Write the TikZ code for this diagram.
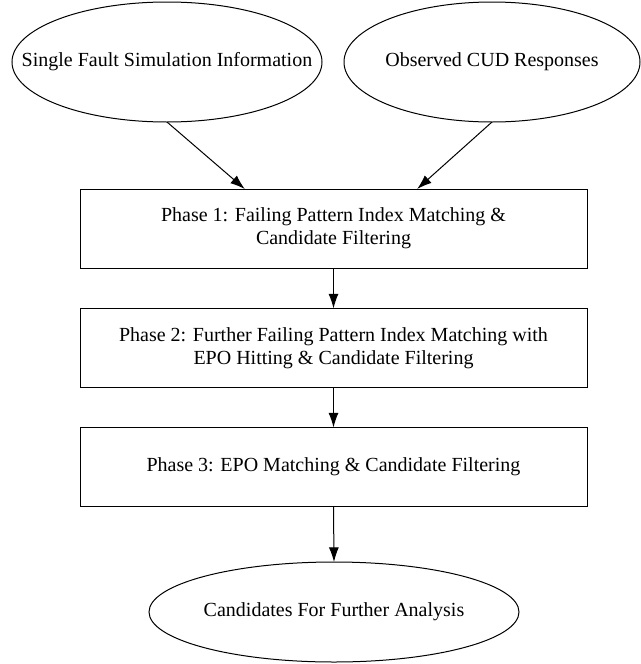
\documentclass[tikz,border=0pt]{standalone}
\usepackage{fontspec}
\setmainfont{Liberation Serif}
\usetikzlibrary{shapes.geometric,arrows.meta,calc}

\newcommand{\ovaltext}[1]{\makebox[0pt]{#1}}

\begin{document}
\begin{tikzpicture}[x=0.75pt, y=-0.75pt,
            every node/.style={font=\fontsize{15}{17.25}\selectfont, align=center, inner sep=0pt, outer sep=0pt},
            src/.style={ellipse, draw, line width=0.75pt, minimum height=90pt},
            phase/.style={rectangle, draw, line width=0.75pt, minimum width=380.25pt, minimum height=59.25pt},
            flow/.style={-{Latex[length=11pt, width=7.5pt]}, line width=0.75pt},
        ]
            \useasboundingbox (0,0) rectangle (641,664);
            \node[src, minimum width=232.5pt](simnode) at (167,62) {\ovaltext{Single Fault Simulation Information}};
            \node[src, minimum width=222pt](obsnode) at (492,62) {\ovaltext{Observed CUD Responses}};
            \node[phase](p1node) at (333.5,228.5) {Phase 1: Failing Pattern Index Matching \&\\ Candidate Filtering};
            \node[phase](p2node) at (333.5,348) {Phase 2: Further Failing Pattern Index Matching with\\ EPO Hitting \& Candidate Filtering};
            \node[phase](p3node) at (333.5,467) {Phase 3: EPO Matching \& Candidate Filtering};
            \node[src, minimum width=277.5pt, minimum height=75pt](candnode) at (334,612) {\ovaltext{Candidates For Further Analysis}};
            \draw[flow] (simnode.south) -- ($(p1node.north west)!0.325!(p1node.north east)$);
            \draw[flow] (obsnode.south) -- ($(p1node.north west)!0.665!(p1node.north east)$);
            \draw[flow] (p1node.south) -- (p2node.north);
            \draw[flow] (p2node.south) -- (p3node.north);
            \draw[flow] (p3node.south) -- (candnode.north);
        \end{tikzpicture}
\end{document}
